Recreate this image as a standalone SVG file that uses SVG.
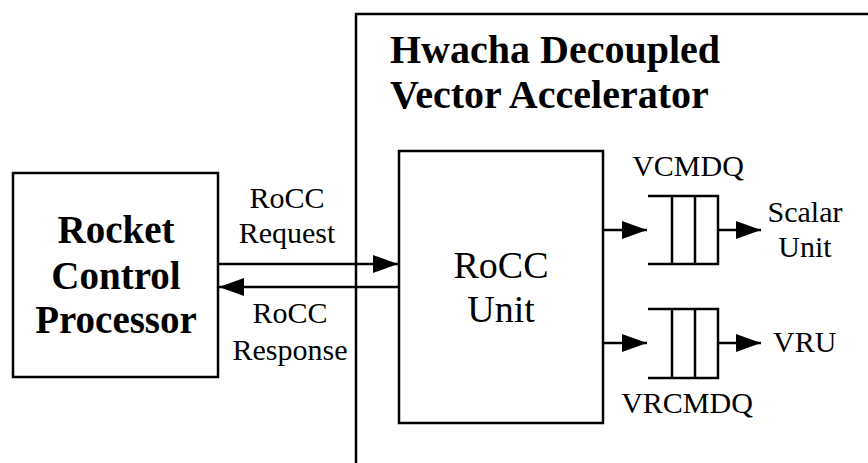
<svg xmlns="http://www.w3.org/2000/svg" width="868" height="463" viewBox="0 0 868 463">
<style>
.box{fill:none;stroke:#000;stroke-width:2.5}
.ln{fill:none;stroke:#000;stroke-width:2.5}
.b{font-family:"Liberation Serif","Times New Roman",serif;font-weight:bold;fill:#000}
.r{font-family:"Liberation Serif","Times New Roman",serif;fill:#000}
</style>
<defs>
<marker id="ah" markerUnits="userSpaceOnUse" markerWidth="26" markerHeight="20" refX="25" refY="9" orient="auto">
<polygon points="0,0 25,9 0,18" fill="#000"/>
</marker>
</defs>
<rect width="868" height="463" fill="#fff"/>
<g id="hwacha">
<path class="ln" d="M356,463 V14 H868"/>
<text class="b" font-size="40" x="390" y="63">Hwacha Decoupled</text>
<text class="b" font-size="40" x="390" y="108">Vector Accelerator</text>
</g>
<g id="rocket">
<rect class="box" x="13" y="173" width="205" height="204"/>
<text class="b" font-size="39" text-anchor="middle" x="116" y="243">Rocket</text>
<text class="b" font-size="39" text-anchor="middle" x="116" y="289">Control</text>
<text class="b" font-size="39" text-anchor="middle" x="116" y="333">Processor</text>
</g>
<g id="rocc">
<rect class="box" x="399" y="151" width="204" height="272"/>
<text class="r" font-size="38" text-anchor="middle" x="501" y="278">RoCC</text>
<text class="r" font-size="38" text-anchor="middle" x="501" y="322">Unit</text>
</g>
<g id="vcmdq">
<path class="ln" d="M648,196 H718 V264 H648 M672,196 V264 M695,196 V264"/>
<text class="r" font-size="30" text-anchor="middle" x="688" y="176">VCMDQ</text>
</g>
<g id="vrcmdq">
<path class="ln" d="M648,309 H718 V378 H648 M672,309 V378 M695,309 V378"/>
<text class="r" font-size="30" text-anchor="middle" x="687" y="413">VRCMDQ</text>
</g>
<g id="scalar">
<text class="r" font-size="30" text-anchor="middle" x="805" y="222">Scalar</text>
<text class="r" font-size="30" text-anchor="middle" x="805" y="257">Unit</text>
</g>
<g id="vru">
<text class="r" font-size="30" x="773" y="352">VRU</text>
</g>
<g id="connectors">
<line class="ln" x1="218" y1="264" x2="398" y2="264" marker-end="url(#ah)"/>
<line class="ln" x1="399" y1="287" x2="219" y2="287" marker-end="url(#ah)"/>
<line class="ln" x1="603" y1="230" x2="647" y2="230" marker-end="url(#ah)"/>
<line class="ln" x1="718" y1="230" x2="761" y2="230" marker-end="url(#ah)"/>
<line class="ln" x1="603" y1="343" x2="647" y2="343" marker-end="url(#ah)"/>
<line class="ln" x1="718" y1="343" x2="761" y2="343" marker-end="url(#ah)"/>
<text class="r" font-size="30" text-anchor="middle" x="287" y="208">RoCC</text>
<text class="r" font-size="30" text-anchor="middle" x="287" y="243">Request</text>
<text class="r" font-size="30" text-anchor="middle" x="290" y="323">RoCC</text>
<text class="r" font-size="30" text-anchor="middle" x="290" y="360">Response</text>
</g>
</svg>
